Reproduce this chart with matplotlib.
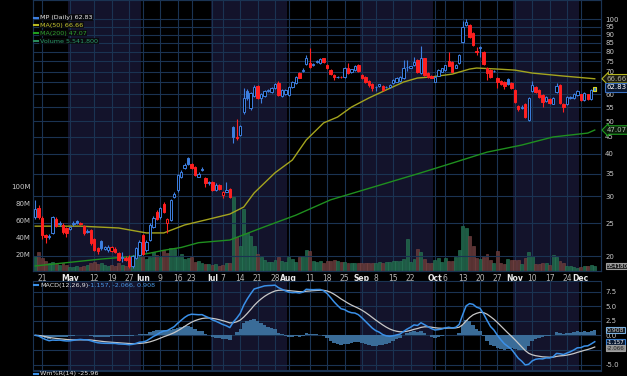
import numpy as np
import pandas as pd
import matplotlib
matplotlib.use("Agg")
import matplotlib.pyplot as plt
from matplotlib.patches import Rectangle
from matplotlib.lines import Line2D

W, H = 627, 376

# trading days shown (Apr 16 - Dec 5 2025)
holidays = ['2025-04-18', '2025-05-26', '2025-06-19', '2025-07-04', '2025-09-01', '2025-11-27']
days = pd.bdate_range('2025-04-16', '2025-12-05')
days = days[~days.isin(pd.to_datetime(holidays))]

opens = [
    26.0, 27.8, 25.9, 23.1, 22.7, 23.4, 25.7, 24.9, 24.7, 24.2,
    24.0, 24.9, 25.4, 25.0, 24.5, 23.6, 23.8, 22.4, 21.1, 22.1,
    21.0, 20.8, 20.7, 21.0, 20.4, 19.8, 19.8, 19.9, 18.7, 19.8,
    20.2, 23.0, 20.8, 22.3, 24.4, 27.0, 26.0, 28.5, 25.0, 25.6,
    29.9, 31.3, 34.3, 36.3, 38.9, 37.4, 36.6, 34.3, 35.9, 33.9,
    32.8, 33.0, 31.3, 32.4, 30.3, 31.0, 31.5, 48.0, 45.0, 45.5,
    53.2, 61.2, 54.6, 59.2, 63.4, 58.5, 59.3, 61.5, 60.8, 62.6,
    64.7, 59.3, 60.0, 59.7, 63.0, 64.8, 69.3, 70.5, 73.7, 74.2,
    73.3, 74.5, 74.2, 76.5, 73.2, 70.7, 68.4, 67.4, 67.6, 67.5,
    71.7, 69.7, 70.7, 73.2, 68.4, 67.4, 65.7, 64.3, 62.9, 63.5,
    63.4, 62.9, 63.0, 64.8, 65.2, 65.5, 67.0, 72.0, 71.8, 73.0,
    75.7, 69.3, 76.7, 69.3, 68.0, 65.2, 68.0, 70.0, 70.7, 75.2,
    74.6, 71.8, 74.2, 85.5, 96.3, 96.0, 91.0, 80.5, 82.0, 80.0,
    71.7, 70.7, 70.1, 67.0, 65.6, 65.2, 66.6, 64.7, 61.7, 55.4,
    54.8, 56.2, 50.4, 61.3, 63.0, 61.7, 59.7, 57.3, 58.1, 56.3,
    61.0, 63.9, 56.2, 56.2, 58.6, 58.5, 59.7, 60.0, 57.8, 60.0,
    58.1, 61.5]
highs = [
    29.2, 28.2, 26.2, 23.3, 23.3, 26.3, 26.0, 25.3, 25.0, 24.4,
    24.5, 25.3, 25.6, 25.2, 24.7, 24.0, 24.0, 22.6, 21.3, 22.3,
    21.4, 21.6, 21.4, 21.2, 20.6, 20.6, 20.0, 20.1, 20.2, 21.3,
    22.3, 23.3, 22.3, 25.0, 26.2, 27.3, 28.0, 28.8, 25.9, 29.5,
    30.8, 35.0, 35.8, 37.5, 39.3, 37.6, 36.8, 35.3, 36.5, 34.1,
    33.3, 33.2, 32.8, 32.6, 31.2, 33.0, 31.7, 48.5, 50.7, 48.8,
    62.6, 62.0, 61.0, 63.8, 64.0, 60.4, 61.9, 62.2, 63.0, 64.8,
    65.5, 62.0, 62.2, 63.4, 65.6, 67.8, 69.8, 71.5, 78.2, 82.0,
    74.2, 75.8, 76.6, 77.0, 73.5, 71.0, 68.7, 68.0, 68.0, 72.0,
    74.0, 71.3, 73.0, 73.6, 68.8, 67.7, 66.0, 64.6, 63.5, 64.5,
    63.7, 63.4, 64.3, 66.4, 67.3, 67.7, 75.7, 75.7, 72.9, 77.5,
    76.0, 83.0, 77.0, 69.6, 68.3, 67.8, 71.0, 71.8, 73.3, 80.0,
    75.0, 73.6, 78.7, 99.0, 100.3, 96.5, 91.5, 82.8, 83.5, 80.5,
    72.0, 71.0, 70.8, 67.3, 65.9, 65.5, 67.0, 65.0, 62.0, 55.8,
    55.6, 56.6, 58.9, 65.5, 63.3, 62.0, 60.0, 59.2, 58.4, 58.8,
    64.8, 64.2, 56.5, 59.2, 59.4, 60.4, 61.7, 60.3, 60.8, 60.3,
    62.0, 63.2]
lows = [
    25.8, 25.8, 22.5, 21.8, 22.4, 23.2, 24.3, 24.6, 23.3, 22.8,
    23.8, 24.6, 24.9, 24.7, 23.1, 23.4, 21.6, 20.7, 20.3, 20.9,
    20.8, 20.6, 20.5, 20.4, 19.3, 19.2, 19.3, 18.4, 18.5, 19.6,
    20.0, 20.1, 20.6, 22.1, 24.2, 25.5, 25.8, 26.8, 23.4, 25.4,
    29.6, 31.0, 34.0, 36.0, 37.2, 36.1, 34.4, 34.1, 35.7, 32.0,
    32.5, 31.1, 31.1, 31.3, 29.7, 30.8, 29.6, 43.0, 44.0, 45.2,
    52.5, 57.6, 54.0, 58.8, 58.0, 56.6, 59.0, 60.9, 60.5, 62.3,
    59.4, 59.0, 59.7, 59.4, 62.7, 64.5, 66.8, 70.0, 73.3, 71.8,
    72.8, 74.2, 73.9, 74.0, 71.4, 68.5, 66.0, 67.0, 67.0, 67.2,
    69.0, 69.4, 70.4, 70.0, 66.7, 64.9, 63.0, 61.5, 61.3, 63.2,
    61.4, 62.6, 62.7, 64.5, 65.0, 65.3, 66.7, 70.3, 71.5, 72.8,
    69.5, 69.0, 68.0, 67.2, 66.8, 65.0, 67.7, 69.7, 70.4, 72.5,
    69.7, 71.5, 73.9, 85.0, 95.5, 88.0, 83.3, 78.5, 77.3, 73.3,
    66.3, 67.2, 69.8, 62.5, 64.0, 62.0, 64.0, 62.3, 56.7, 53.5,
    54.4, 51.0, 50.0, 61.0, 60.7, 58.6, 55.0, 57.0, 56.2, 56.0,
    60.7, 56.2, 53.2, 55.9, 58.2, 58.2, 59.4, 57.5, 57.5, 57.9,
    57.8, 61.2]
closes = [
    27.5, 26.0, 23.1, 22.7, 22.9, 26.0, 24.5, 25.0, 23.5, 23.4,
    24.3, 25.0, 25.1, 24.9, 23.4, 23.7, 21.8, 20.9, 20.7, 21.1,
    21.2, 21.3, 21.2, 20.6, 19.5, 19.9, 19.5, 18.7, 20.0, 21.1,
    22.0, 20.3, 22.0, 24.7, 25.9, 25.7, 27.7, 27.0, 25.7, 29.2,
    30.4, 34.6, 35.4, 37.1, 37.4, 36.3, 34.6, 35.0, 36.1, 32.9,
    33.0, 31.3, 32.5, 31.5, 31.0, 31.4, 29.8, 44.9, 44.5, 48.4,
    58.5, 58.6, 60.5, 63.0, 58.3, 60.0, 61.5, 61.7, 62.7, 64.3,
    59.7, 61.7, 61.9, 63.0, 65.2, 67.4, 67.0, 70.8, 76.7, 72.2,
    73.6, 75.3, 76.2, 74.5, 71.7, 68.8, 67.4, 67.6, 67.4, 71.7,
    69.5, 71.0, 72.7, 70.3, 67.0, 65.2, 63.9, 62.6, 63.1, 64.2,
    61.7, 63.1, 64.0, 66.1, 67.0, 67.4, 71.7, 72.3, 72.5, 74.6,
    69.8, 76.7, 68.4, 67.5, 67.0, 67.5, 70.7, 71.5, 73.0, 72.8,
    70.0, 73.3, 78.3, 94.7, 97.8, 88.5, 83.8, 79.8, 82.8, 73.7,
    69.3, 67.5, 70.4, 65.2, 64.3, 63.4, 64.3, 62.6, 57.0, 54.2,
    55.1, 51.4, 58.5, 63.9, 61.0, 58.9, 57.0, 58.9, 56.5, 58.5,
    63.4, 56.5, 55.0, 58.9, 59.0, 60.0, 61.3, 57.8, 60.5, 58.2,
    61.7, 62.83]
volume_m = [
    18, 22, 15, 12, 10, 11, 8, 7, 10, 7,
    5, 5, 6, 5, 6, 7, 10, 11, 8, 10,
    7, 6, 7, 6, 9, 7, 6, 8, 10, 14,
    17, 18, 14, 16, 22, 19, 16, 25, 21, 27,
    26, 18, 20, 14, 15, 16, 11, 12, 9, 8,
    8, 7, 8, 6, 7, 9, 10, 88, 40, 30,
    74, 45, 42, 30, 20, 16, 13, 11, 11, 13,
    17, 12, 11, 16, 14, 11, 16, 18, 25, 24,
    12, 11, 12, 10, 12, 12, 13, 12, 11, 11,
    10, 10, 9, 10, 9, 9, 9, 9, 10, 11,
    10, 11, 11, 12, 12, 12, 14, 38, 11, 14,
    26, 23, 14, 10, 9, 13, 15, 11, 15, 12,
    12, 16, 25, 53, 51, 41, 30, 15, 14, 17,
    20, 13, 10, 24, 9, 8, 14, 13, 13, 13,
    8, 15, 22, 18, 8, 8, 10, 10, 7, 19,
    16, 12, 9, 6, 6, 5, 4, 5, 6, 6,
    7, 5.5418]

# moving averages at a few bars
ma50_idx = [0, 13, 24, 32, 37, 43, 50, 56, 60, 63, 69, 74, 78, 83, 87, 91, 96, 101, 106, 110,
            114, 120, 125, 127, 133, 138, 143, 152, 161]
ma50_val = [24.5, 24.5, 24.2, 23.4, 23.4, 24.7, 25.7, 26.6, 27.9, 30.7, 35.2, 38.4, 44.0, 49.4,
            51.4, 55.0, 58.5, 61.8, 65.2, 67.0, 67.5, 68.8, 71.2, 71.7, 71.2, 70.7, 69.3, 67.9, 66.66]
ma200_idx = [0, 19, 27, 33, 37, 42, 47, 56, 66, 75, 83, 85, 111, 120, 130, 140, 149, 159, 161]
ma200_val = [18.7, 19.6, 19.9, 20.4, 20.8, 21.2, 21.9, 22.3, 24.4, 26.4, 28.7, 29.3, 35.2, 37.6,
             40.5, 42.5, 44.9, 46.1, 47.07]

# last values as printed on the chart
macd_last, signal_last, hist_last = -1.157, -2.066, 0.908
willr_last = -25.96

tick_dates = ['2025-04-21', '2025-05-01', '2025-05-12', '2025-05-19', '2025-05-27', '2025-06-02',
              '2025-06-09', '2025-06-16', '2025-06-23', '2025-07-01', '2025-07-07', '2025-07-14',
              '2025-07-21', '2025-07-28', '2025-08-01', '2025-08-11', '2025-08-18', '2025-08-25',
              '2025-09-02', '2025-09-08', '2025-09-15', '2025-09-22', '2025-10-01', '2025-10-06',
              '2025-10-13', '2025-10-20', '2025-10-27', '2025-11-03', '2025-11-10', '2025-11-17',
              '2025-11-24', '2025-12-01']
tick_labels = ['21', 'May', '12', '19', '27', 'Jun', '9', '16', '23', 'Jul', '7', '14', '21', '28',
               'Aug', '11', '18', '25', 'Sep', '8', '15', '22', 'Oct', '6', '13', '20', '27', 'Nov',
               '10', '17', '24', 'Dec']
price_ticks = [20, 25, 30, 35, 40, 45, 50, 55, 60, 65, 70, 75, 80, 85, 90, 95, 100]
macd_ticks = [-5.0, -2.5, 0.0, 2.5, 5.0, 7.5]
vol_ticks = [20, 40, 60, 80, 100]

BG = '#000000'
SHADE = '#13132b'
GRID = '#1a3352'
UP = '#3d7fe0'
DN = '#ff2020'
TXT = '#c8c8c8'

n = len(closes)
xi = np.arange(n)
o = np.array(opens); h = np.array(highs); l = np.array(lows); c = np.array(closes)
prev = np.r_[o[0], c[:-1]]

cs = pd.Series(c)
macd = cs.ewm(span=12, adjust=False).mean() - cs.ewm(span=26, adjust=False).mean()
signal = macd.ewm(span=9, adjust=False).mean()
hist = macd - signal

fig = plt.figure(figsize=(W / 100, H / 100), dpi=100, facecolor=BG)
L, R = 33 / W, 601 / W
rect_p = [L, 1 - 271 / H, R - L, 271 / H]
rect_m = [L, 1 - 370 / H, R - L, 89 / H]

axv = fig.add_axes(rect_p)
ax = fig.add_axes(rect_p, sharex=axv)
axm = fig.add_axes(rect_m, sharex=axv)
ax.patch.set_alpha(0)
axv.set_facecolor(BG)
axm.set_facecolor(BG)
xlim = (-0.63, 162.8)

# month shading
months = days.month
starts = [i for i in range(n) if i == 0 or months[i] != months[i - 1]]
for k, s in enumerate(starts):
    e = starts[k + 1] if k + 1 < len(starts) else n + 3
    if months[s] % 2 == 1:
        for a in (axv, axm):
            a.axvspan(s - 0.5, e - 0.5, color=SHADE, lw=0, zorder=0)

tick_pos = [days.get_loc(pd.Timestamp(d)) for d in tick_dates]
for a in (axv, axm):
    for t in tick_pos:
        a.axvline(t, color=GRID, lw=0.8, zorder=0.5)

# volume
vcol = np.where(c >= prev, '#1d5c44', '#5a3434')
vedge = np.where(c >= prev, '#2a7a5a', '#7a4545')
axv.bar(xi, volume_m, width=0.85, color=vcol, edgecolor=vedge, lw=0.4, zorder=1)
axv.set_ylim(0, 321)
axv.set_yticks(vol_ticks)
axv.set_yticklabels([f'{v}M' for v in vol_ticks])
axv.tick_params(axis='y', length=0, labelsize=5, colors=TXT, pad=2)
axv.tick_params(axis='x', length=0, labelbottom=False)

# price
ax.set_yscale('log')
ax.set_ylim(18.07, 113.8)
ax.set_xlim(*xlim)
for p in price_ticks:
    ax.axhline(p, color=GRID, lw=0.8, zorder=0.6)
ax.plot(ma200_idx, ma200_val, color='#1f8f1f', lw=1.0, zorder=2)
ax.plot(ma50_idx, ma50_val, color='#a4a41e', lw=1.0, zorder=2)
for i in range(n):
    col = UP if c[i] >= prev[i] else DN
    ax.vlines(i, l[i], h[i], color=col, lw=0.8, zorder=3)
    lo, hi = min(o[i], c[i]), max(o[i], c[i])
    if hi - lo < 0.08:
        hi = lo + 0.08
    filled = c[i] < o[i]
    ax.add_patch(Rectangle((i - 0.34, lo), 0.68, hi - lo, facecolor=col if filled else BG,
                           edgecolor=col, lw=0.7, zorder=4))
ax.add_patch(Rectangle((n - 1 - 0.4, o[-1]), 0.8, c[-1] - o[-1], facecolor=UP,
                       edgecolor='#d8d820', lw=0.8, zorder=5))
ax.yaxis.tick_right()
ax.set_yticks(price_ticks)
# 65 sits under the MA(50) box
ax.set_yticklabels(['' if p == 65 else str(p) for p in price_ticks])
ax.yaxis.set_minor_locator(matplotlib.ticker.NullLocator())
ax.tick_params(axis='y', length=0, labelsize=5, colors=TXT, pad=3)
ax.set_xticks(tick_pos)
ax.set_xticklabels(tick_labels)
ax.tick_params(axis='x', length=0, pad=2, labelsize=5.5, colors='#d0d0d0')
for t, lab in zip(ax.get_xticklabels(), tick_labels):
    if not lab.isdigit():
        t.set_fontweight('bold')
        t.set_color('#ececec')
    else:
        t.set_color('#b8b8b8')

# value markers on the right
def marker(a, y, text, ec, fc, tc, style='larrow', fs=5, pad=0.18):
    a.annotate(text, xy=(1.0, y), xycoords=('axes fraction', 'data'), xytext=(4, 0),
               textcoords='offset points', va='center', ha='left', fontsize=fs, color=tc,
               annotation_clip=False, zorder=10,
               bbox=dict(boxstyle=f'{style},pad={pad}', fc=fc, ec=ec, lw=0.8))

marker(ax, ma50_val[-1], f'{ma50_val[-1]:.2f}', '#b8b820', '#1a1a10', '#b0b0a0')
marker(ax, c[-1], f'{c[-1]:.2f}', '#3a70c0', '#0a1830', '#ffffff', 'square')
marker(ax, ma200_val[-1], f'{ma200_val[-1]:.2f}', '#1f9f1f', '#0a1a0a', '#b0c0b0')
marker(axv, volume_m[-1], f'{volume_m[-1] * 1e6:.0f}', '#a0a0a0', '#202020', '#e0e0e0',
       'square', fs=4.0, pad=0.1)

# MACD panel
axm.bar(xi, hist, width=1.0, color='#3a6c98', lw=0, zorder=1)
axm.plot(xi, signal, color='#c8c8c8', lw=0.9, zorder=2)
axm.plot(xi, macd, color='#3a90e8', lw=1.1, zorder=3)
axm.set_xlim(*xlim)
axm.set_ylim(-5.94, 9.3)
for v in macd_ticks:
    axm.axhline(v, color=GRID, lw=0.8, zorder=0.6)
axm.yaxis.tick_right()
axm.set_yticks(macd_ticks)
axm.set_yticklabels([f'{v:.1f}' for v in macd_ticks])
axm.tick_params(axis='y', length=0, labelsize=5, colors=TXT, pad=3)
axm.tick_params(axis='x', length=0, labelbottom=False)
marker(axm, hist_last, f'{hist_last:.3f}', '#7ab0e0', '#101820', '#d0d0d0', 'square', fs=4.4, pad=0.1)
marker(axm, macd_last, f'{macd_last:.3f}', '#3a80d0', '#0a1830', '#ffffff', 'square', fs=4.0, pad=0.08)
marker(axm, signal_last - 0.15, f'{signal_last:.3f}', '#a0a0a0', '#909090', '#202020', 'square',
       fs=4.0, pad=0.08)

for a in (ax, axv, axm):
    for sp in a.spines.values():
        sp.set_color(GRID)
        sp.set_linewidth(0.8)

# legends
def fx(px):
    return px / W

def fy(py):
    return 1 - py / H

leg = [(f'MP (Daily) {c[-1]:.2f}', '#e8e8e8', UP),
       (f'MA(50) {ma50_val[-1]:.2f}', '#c8c830', '#b8b820'),
       (f'MA(200) {ma200_val[-1]:.2f}', '#30a030', '#1f9f1f'),
       (f'Volume {volume_m[-1] * 1e6:,.0f}', '#2a9a6a', '#2a8a5a')]
for k, (txt, tc, ic) in enumerate(leg):
    yy = 17.5 + k * 7.8
    fig.add_artist(Line2D([fx(34), fx(38)], [fy(yy), fy(yy)], color=ic, lw=1.5))
    fig.text(fx(40), fy(yy), txt, fontsize=4.6, color=tc, va='center', ha='left',
             bbox=dict(boxstyle='square,pad=0.1', fc='#080808', ec='none', alpha=0.8))

fig.add_artist(Line2D([fx(34), fx(38)], [fy(285), fy(285)], color='#3a90e8', lw=1.5))
fig.text(fx(40), fy(285), 'MACD(12,26,9)', fontsize=4.6, color='#e0e0e0', va='center', ha='left')
fig.text(fx(88), fy(285), f'{macd_last:.3f}, {signal_last:.3f}, {hist_last:.3f}', fontsize=4.6,
         color='#4a9ae8', va='center', ha='left')
fig.add_artist(Line2D([fx(34), fx(38)], [fy(374), fy(374)], color='#3a90e8', lw=1.5))
fig.text(fx(40), fy(374), f'Wm%R(14) {willr_last:.2f}', fontsize=4.6, color='#e0e0e0',
         va='center', ha='left')
fig.add_artist(Line2D([fx(33), fx(601)], [fy(371), fy(371)], color=GRID, lw=0.8))

fig.savefig('out.png', dpi=100, facecolor=BG)
